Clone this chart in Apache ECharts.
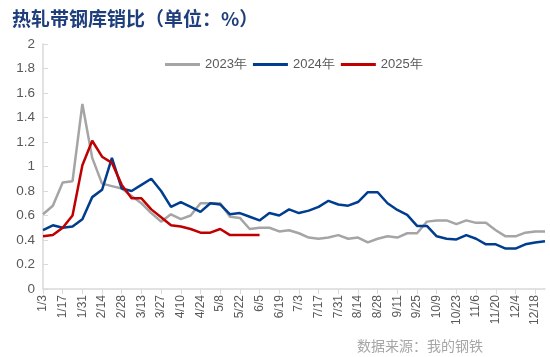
<!DOCTYPE html>
<html><head><meta charset="utf-8">
<script src="https://cdn.jsdelivr.net/npm/echarts@6/dist/echarts.min.js"></script>
<style>html,body{margin:0;padding:0;background:#fff}#c{width:550px;height:357px}</style>
</head><body><div id="c"></div>
<script>
const categories = ['1/3','1/10','1/17','1/24','1/31','2/7','2/14','2/21','2/28','3/6','3/13','3/20','3/27','4/3','4/10','4/17','4/24','5/1','5/8','5/15','5/22','5/29','6/5','6/12','6/19','6/26','7/3','7/10','7/17','7/24','7/31','8/7','8/14','8/21','8/28','9/4','9/11','9/18','9/25','10/2','10/9','10/16','10/23','10/30','11/6','11/13','11/20','11/27','12/4','12/11','12/18','12/25'];
const s2023 = [0.61,0.68,0.87,0.88,1.51,1.07,0.86,0.84,0.82,0.76,0.70,0.62,0.55,0.61,0.57,0.60,0.70,0.70,0.70,0.59,0.58,0.49,0.50,0.50,0.47,0.48,0.455,0.42,0.41,0.42,0.44,0.41,0.42,0.38,0.41,0.43,0.42,0.455,0.455,0.55,0.56,0.56,0.53,0.56,0.54,0.54,0.48,0.43,0.43,0.46,0.47,0.47];
const s2024 = [0.48,0.52,0.50,0.51,0.57,0.75,0.81,1.07,0.82,0.80,0.85,0.90,0.80,0.67,0.71,0.67,0.63,0.70,0.69,0.61,0.62,0.59,0.56,0.62,0.60,0.65,0.62,0.64,0.67,0.72,0.69,0.68,0.71,0.79,0.79,0.70,0.645,0.605,0.515,0.515,0.43,0.41,0.405,0.44,0.41,0.365,0.365,0.33,0.33,0.365,0.38,0.39];
const s2025 = [0.43,0.44,0.50,0.60,1.01,1.21,1.08,1.03,0.85,0.74,0.74,0.65,0.586,0.52,0.51,0.49,0.46,0.46,0.49,0.44,0.44,0.44,0.44];
const yTicks = {min:0, max:2, interval:0.2};

const chart = echarts.init(document.getElementById('c'), null, {renderer:'canvas'});
const txt = '#595959';
function line(name, data, color){
  return {name, type:'line', data, showSymbol:false, symbol:'none', smooth:false,
    lineStyle:{color, width:2.5}, itemStyle:{color}};
}
chart.setOption({
  animation:false,
  backgroundColor:'#fff',
  title:[{text:'热轧带钢库销比（单位：%）', left:7, top:4,
    textStyle:{fontFamily:'Noto Sans CJK SC', fontWeight:'bold', fontSize:19, color:'#1F3E7C'}},
    {text:'数据来源：我的钢铁', left:352, top:334,
    textStyle:{fontFamily:'Noto Sans CJK SC', fontWeight:'normal', fontSize:14, color:'#A6A6A6'}}],
  legend:{top:53, left:160, itemWidth:35, itemHeight:3, itemGap:6, icon:'rect',
    data:['2023年','2024年','2025年'],
    textStyle:{fontFamily:'Liberation Sans', fontSize:13, color:txt}},
  grid:{left:43, right:5, top:44, bottom:68, containLabel:false},
  xAxis:{type:'category', data:categories, boundaryGap:false,
    axisLine:{lineStyle:{color:'#D9D9D9', width:1.5}},
    axisTick:{interval:1, length:5, lineStyle:{color:'#D9D9D9'}},
    axisLabel:{interval:1, hideOverlap:false, rotate:90, fontFamily:'Liberation Sans', fontSize:12, color:txt, margin:6},
    splitLine:{show:false}},
  yAxis:{type:'value', min:yTicks.min, max:yTicks.max, interval:yTicks.interval,
    axisLine:{show:true, lineStyle:{color:'#D9D9D9', width:1.5}},
    axisTick:{show:true, inside:true, length:5, lineStyle:{color:'#D9D9D9'}},
    axisLabel:{fontFamily:'Liberation Sans', fontSize:13.5, color:txt, margin:8},
    splitLine:{show:false}},
  series:[line('2023年', s2023, '#A5A5A5'), line('2024年', s2024, '#003D8F'), line('2025年', s2025, '#C00000')]
});
</script></body></html>
